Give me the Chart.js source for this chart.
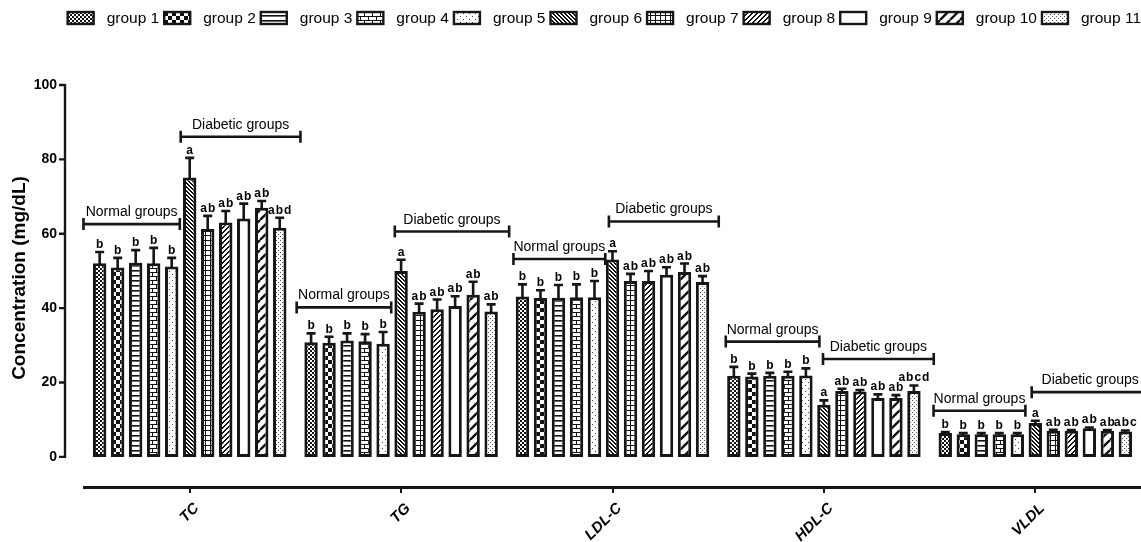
<!DOCTYPE html>
<html>
<head>
<meta charset="utf-8">
<script src="https://cdn.jsdelivr.net/npm/chart.js@4.4.1/dist/chart.umd.min.js"></script>
<style>
  html, body { margin: 0; padding: 0; background: #fff; }
  #c { display: block; }
</style>
</head>
<body>
<canvas id="c" width="1141" height="542"></canvas>
<script>
// ---- data -------------------------------------------------------------
const categories = ['TC', 'TG', 'LDL-C', 'HDL-C', 'VLDL'];
const groupLabels = ['group 1', 'group 2', 'group 3', 'group 4', 'group 5', 'group 6',
                     'group 7', 'group 8', 'group 9', 'group 10', 'group 11'];
const yTicks = [0, 20, 40, 60, 80, 100];

// mean concentration (mg/dL) of each group, per lipid parameter
const tcMean   = [52.1, 50.9, 52.2, 52.1, 51.2, 75.1, 61.3, 63.0, 64.1, 67.0, 61.6];
const tgMean   = [30.8, 30.7, 31.3, 31.1, 30.4, 50.0, 39.0, 39.7, 40.6, 43.6, 39.1];
const ldlMean  = [43.1, 42.7, 42.8, 42.9, 42.9, 53.1, 47.3, 47.3, 49.0, 49.7, 47.0];
const hdlMean  = [21.8, 21.6, 21.8, 21.8, 21.9, 14.0, 17.7, 17.6, 15.8, 15.8, 17.7];
const vldlMean = [6.4, 6.1, 6.1, 6.1, 6.1, 9.1, 7.0, 7.0, 7.7, 7.0, 6.8];

// error (upper whisker length)
const tcErr   = [3.0, 2.6, 3.4, 4.1, 2.3, 5.3, 3.5, 3.1, 4.0, 1.8, 2.7];
const tgErr   = [2.4, 1.6, 1.9, 1.9, 3.2, 3.0, 2.2, 2.6, 2.6, 3.5, 1.9];
const ldlErr  = [3.3, 2.1, 3.4, 3.5, 4.4, 2.2, 1.9, 2.7, 2.0, 2.3, 1.6];
const hdlErr  = [2.4, 0.8, 0.8, 1.1, 1.9, 1.2, 0.6, 0.4, 1.0, 0.8, 1.5];
const vldlErr = [0.3, 0.3, 0.3, 0.3, 0.3, 0.6, 0.3, 0.2, 0.2, 0.2, 0.3];

// significance letters
const tcSig   = ['b', 'b', 'b', 'b', 'b', 'a', 'ab', 'ab', 'ab', 'ab', 'abd'];
const tgSig   = ['b', 'b', 'b', 'b', 'b', 'a', 'ab', 'ab', 'ab', 'ab', 'ab'];
const ldlSig  = ['b', 'b', 'b', 'b', 'b', 'a', 'ab', 'ab', 'ab', 'ab', 'ab'];
const hdlSig  = ['b', 'b', 'b', 'b', 'b', 'a', 'ab', 'ab', 'ab', 'ab', 'abcd'];
const vldlSig = ['b', 'b', 'b', 'b', 'b', 'a', 'ab', 'ab', 'ab', 'ab', 'abc'];

// group brackets: label and the level (mg/dL) of the bracket line in each category
const bracketNames = ['Normal groups', 'Diabetic groups'];
const normalLevel   = [62.6, 40.2, 53.2, 31.0, 12.4];
const diabeticLevel = [86.1, 60.6, 63.3, 26.3, 17.4];

// ---- assembly -----------------------------------------------------------
const meanByCat = [tcMean, tgMean, ldlMean, hdlMean, vldlMean];
const errByCat  = [tcErr, tgErr, ldlErr, hdlErr, vldlErr];
const sigByCat  = [tcSig, tgSig, ldlSig, hdlSig, vldlSig];

const FONT = "'Liberation Sans', Arial, Helvetica, sans-serif";
const INK = '#161616';

// bracket horizontal extents, in bar-slot units from the category centre
const bracketSpan = {
  normal:   [[-5.9, -0.55], [-5.8, -0.55], [-5.5, -0.4], [-5.45, -0.25], [-5.65, -0.55]],
  diabetic: [[-0.5, 6.15], [-0.35, 6.0], [-0.2, 5.9], [-0.05, 6.1], [-0.2, 6.3]]
};

// fill patterns for the eleven groups
function tile(size, draw) {
  const c = document.createElement('canvas');
  c.width = size[0]; c.height = size[1];
  const g = c.getContext('2d');
  g.fillStyle = '#fff';
  g.fillRect(0, 0, c.width, c.height);
  g.fillStyle = '#111';
  g.strokeStyle = '#111';
  draw(g, c.width, c.height);
  return c;
}
const patternTiles = [
  // 1 fine checker
  tile([4, 4], g => { g.fillRect(0, 0, 2, 2); g.fillRect(2, 2, 2, 2); }),
  // 2 coarse checker
  tile([8, 8], g => { g.fillRect(0, 0, 4, 4); g.fillRect(4, 4, 4, 4); }),
  // 3 horizontal stripes
  tile([4, 5], g => { g.fillRect(0, 0, 4, 1.6); }),
  // 4 brick
  tile([8, 8], g => {
    g.fillRect(0, 0, 8, 1); g.fillRect(0, 4, 8, 1);
    g.fillRect(0, 0, 1, 4); g.fillRect(4, 4, 1, 4);
  }),
  // 5 sparse dots
  tile([6, 6], g => { g.fillStyle = '#444'; g.fillRect(1, 1, 1, 1); g.fillRect(4, 4, 1, 1); }),
  // 6 back-diagonal hatch
  tile([4, 4], g => { for (let i = 0; i < 4; i++) { g.fillRect(i, i, 1, 1); g.fillRect(i, (i + 1) % 4, 1, 1); } }),
  // 7 square grid
  tile([5, 5], g => { g.fillRect(0, 0, 5, 1); g.fillRect(0, 0, 1, 5); }),
  // 8 dense forward hatch
  tile([5, 5], g => { for (let i = 0; i < 5; i++) { g.fillRect(i, 4 - i, 1, 1); g.fillRect(i, (5 - i) % 5, 1, 1); } }),
  // 9 open
  tile([4, 4], () => {}),
  // 10 wide forward hatch
  tile([10, 10], g => {
    g.lineWidth = 2.4;
    g.beginPath();
    for (const k of [-10, 0, 10]) { g.moveTo(k, 10); g.lineTo(k + 10, 0); }
    g.stroke();
  }),
  // 11 stipple
  tile([4, 4], g => { g.fillStyle = '#555'; g.fillRect(0, 0, 1, 1); g.fillRect(2, 2, 1, 1); })
];

const canvas = document.getElementById('c');
const ctx0 = canvas.getContext('2d');
const patterns = patternTiles.map(t => ctx0.createPattern(t, 'repeat'));

const datasets = groupLabels.map((name, gi) => ({
  label: name,
  data: meanByCat.map(arr => arr[gi]),
  errors: errByCat.map(arr => arr[gi]),
  letters: sigByCat.map(arr => arr[gi]),
  backgroundColor: patterns[gi],
  borderColor: INK,
  borderWidth: 3,
  borderSkipped: false,
  categoryPercentage: 0.937,
  barPercentage: 0.745
}));

// space below zero so the category axis sits lower than the value axis origin
const yFloor = -8.1;

// ---- annotation layer ---------------------------------------------------
const annotate = {
  id: 'annotate',
  afterDatasetsDraw(chart) {
    const { ctx, scales: { x, y } } = chart;
    ctx.save();
    // error whiskers and letters
    chart.data.datasets.forEach((ds, di) => {
      const meta = chart.getDatasetMeta(di);
      meta.data.forEach((bar, ci) => {
        const top = y.getPixelForValue(ds.data[ci] + ds.errors[ci]);
        ctx.strokeStyle = INK;
        ctx.lineWidth = 2.6;
        ctx.lineCap = 'butt';
        ctx.beginPath();
        ctx.moveTo(bar.x, bar.y + 2);
        ctx.lineTo(bar.x, top);
        ctx.moveTo(bar.x - 4.5, top);
        ctx.lineTo(bar.x + 4.5, top);
        ctx.stroke();
        ctx.fillStyle = '#000';
        ctx.font = 'bold 12px ' + FONT;
        ctx.letterSpacing = '1px';
        ctx.textAlign = 'center';
        ctx.textBaseline = 'alphabetic';
        ctx.fillText(ds.letters[ci], bar.x + 0.5, top - 4);
      });
    });
    ctx.letterSpacing = '0px';
    // group brackets
    const m0 = chart.getDatasetMeta(0).data, m1 = chart.getDatasetMeta(1).data;
    const slot = m1[0].x - m0[0].x;
    categories.forEach((cat, ci) => {
      const cx = x.getPixelForValue(ci);
      [['normal', normalLevel[ci], bracketNames[0]],
       ['diabetic', diabeticLevel[ci], bracketNames[1]]].forEach(([key, lvl, text]) => {
        const [a, b] = bracketSpan[key][ci];
        const x0 = cx + a * slot, x1 = cx + b * slot;
        const yy = y.getPixelForValue(lvl);
        ctx.strokeStyle = INK;
        ctx.lineWidth = 2.6;
        ctx.beginPath();
        ctx.moveTo(x0, yy); ctx.lineTo(x1, yy);
        ctx.moveTo(x0, yy - 6); ctx.lineTo(x0, yy + 6);
        ctx.moveTo(x1, yy - 6); ctx.lineTo(x1, yy + 6);
        ctx.stroke();
        ctx.fillStyle = '#000';
        ctx.font = '14px ' + FONT;
        ctx.textAlign = 'center';
        ctx.textBaseline = 'alphabetic';
        ctx.fillText(text, (x0 + x1) / 2, yy - 8);
      });
    });
    ctx.restore();
  },
  afterDraw(chart) {
    const { ctx, scales: { x, y }, chartArea } = chart;
    ctx.save();
    // value axis line with outward ticks, offset from the plot
    const ax = chartArea.left - 19;
    ctx.strokeStyle = INK;
    ctx.lineWidth = 2.4;
    ctx.beginPath();
    ctx.moveTo(ax, y.getPixelForValue(yTicks[0]) + 1);
    ctx.lineTo(ax, y.getPixelForValue(yTicks[yTicks.length - 1]) - 1);
    yTicks.forEach(v => {
      const py = y.getPixelForValue(v);
      ctx.moveTo(ax, py); ctx.lineTo(ax - 6, py);
    });
    ctx.stroke();
    // axis title
    ctx.fillStyle = '#000';
    ctx.font = 'bold 19px ' + FONT;
    ctx.textAlign = 'center';
    ctx.textBaseline = 'middle';
    ctx.translate(20, 278);
    ctx.rotate(-Math.PI / 2);
    ctx.fillText('Concentration (mg/dL)', 0, 0);
    ctx.restore();

    // slanted category labels under the category axis
    ctx.save();
    ctx.fillStyle = '#000';
    ctx.font = 'italic bold 15px ' + FONT;
    ctx.textAlign = 'right';
    ctx.textBaseline = 'middle';
    categories.forEach((cat, ci) => {
      ctx.save();
      ctx.translate(x.getPixelForValue(ci) + 7, chartArea.bottom + 19);
      ctx.rotate(-Math.PI / 4);
      ctx.fillText(cat, 0, 0);
      ctx.restore();
    });
    ctx.restore();

    // legend row
    ctx.save();
    ctx.font = '15.5px ' + FONT;
    const boxW = 26, boxH = 12, gap = 13, trail = 5;
    const widths = groupLabels.map(t => ctx.measureText(t).width);
    const total = widths.reduce((s, w) => s + boxW + gap + w, 0) + trail * (groupLabels.length - 1);
    let lx = 1141 - total;
    const cy = 18;
    groupLabels.forEach((t, i) => {
      ctx.fillStyle = patterns[i];
      ctx.fillRect(lx, cy - boxH / 2, boxW, boxH);
      ctx.strokeStyle = INK;
      ctx.lineWidth = 2.4;
      ctx.strokeRect(lx, cy - boxH / 2, boxW, boxH);
      ctx.fillStyle = '#000';
      ctx.textAlign = 'left';
      ctx.textBaseline = 'middle';
      ctx.fillText(t, lx + boxW + gap, cy + 1);
      lx += boxW + gap + widths[i] + trail;
    });
    ctx.restore();
  }
};

new Chart(canvas, {
  type: 'bar',
  data: { labels: categories, datasets },
  plugins: [annotate],
  options: {
    responsive: false,
    animation: false,
    devicePixelRatio: 1,
    layout: { padding: { top: 85, left: 0, right: 0, bottom: 0 } },
    plugins: { legend: { display: false }, tooltip: { enabled: false } },
    scales: {
      x: {
        grid: { display: true, drawOnChartArea: false, drawTicks: true, tickLength: 6,
                color: INK, lineWidth: 2, offset: false },
        border: { display: true, color: INK, width: 3 },
        ticks: { display: false },
        afterFit: s => { s.height = 55; }
      },
      y: {
        min: yFloor,
        max: 100,
        grid: { display: false, drawTicks: false },
        border: { display: false },
        ticks: { color: '#000', padding: 27, font: { family: FONT, size: 14, weight: 'bold' } },
        afterBuildTicks: s => { s.ticks = yTicks.map(v => ({ value: v })); },
        afterFit: s => { s.width = 84; }
      }
    }
  }
});
</script>
</body>
</html>
